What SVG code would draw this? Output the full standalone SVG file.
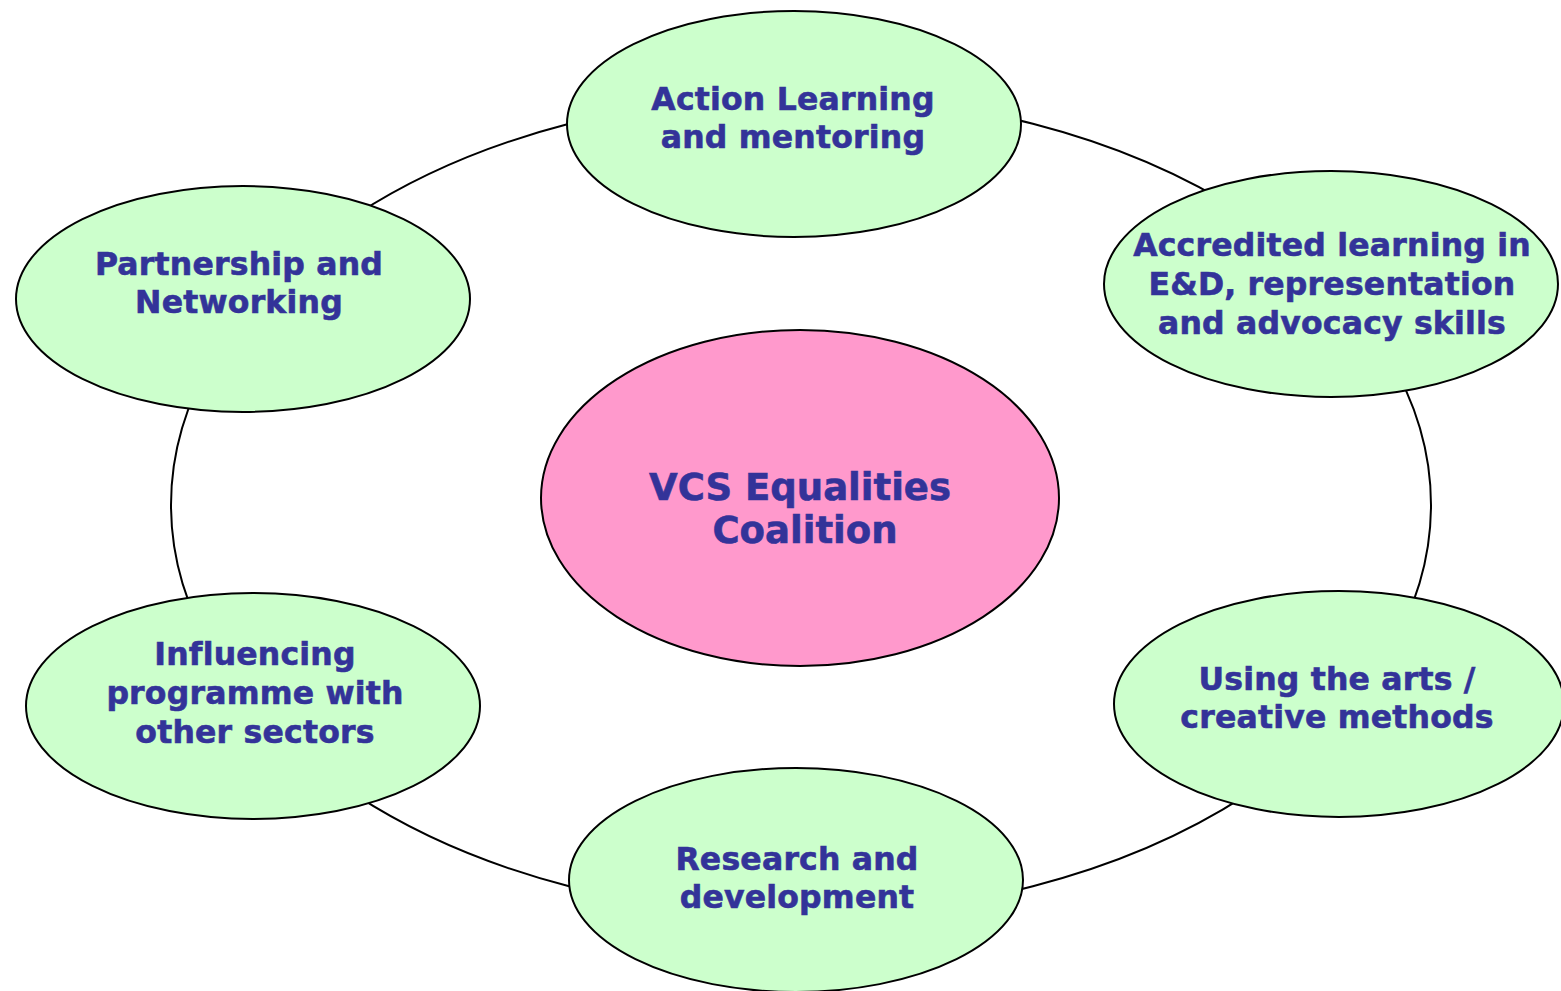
<svg xmlns="http://www.w3.org/2000/svg" width="1561" height="991" viewBox="0 0 1561 991">
  <style>
    .ring { fill: none; stroke: #000; stroke-width: 2; }
    .node { fill: #ccffcc; stroke: #000; stroke-width: 2; }
    .hub { fill: #ff99cc; stroke: #000; stroke-width: 2; }
    .lbl { font-family: "DejaVu Sans", Verdana, sans-serif; font-weight: bold; font-size: 31.5px; letter-spacing: 0.2px; fill: #333399; stroke: #333399; stroke-width: 0.6px; text-anchor: middle; }
    .hub-lbl { font-size: 37px; letter-spacing: 0; }
  </style>
  <rect width="1561" height="991" fill="#fff"/>

  <!-- ring linking the outer topics -->
  <g id="connectors">
    <ellipse class="ring" cx="801" cy="505" rx="630" ry="410"/>
  </g>

  <g id="hub">
    <ellipse class="hub" cx="800" cy="498" rx="259" ry="168"/>
    <text class="lbl hub-lbl" x="800" y="500">VCS Equalities</text>
    <text class="lbl hub-lbl" x="805" y="543">Coalition</text>
  </g>

  <g id="action-learning">
    <ellipse class="node" cx="794" cy="124" rx="227" ry="113"/>
    <text class="lbl" x="793" y="110">Action Learning</text>
    <text class="lbl" x="793" y="148">and mentoring</text>
  </g>

  <g id="accredited-learning">
    <ellipse class="node" cx="1331" cy="284" rx="227" ry="113"/>
    <text class="lbl" x="1332" y="256">Accredited learning in</text>
    <text class="lbl" x="1332" y="295">E&amp;D, representation</text>
    <text class="lbl" x="1332" y="334">and advocacy skills</text>
  </g>

  <g id="using-arts">
    <ellipse class="node" cx="1339" cy="704" rx="225" ry="113"/>
    <text class="lbl" x="1337" y="690">Using the arts /</text>
    <text class="lbl" x="1337" y="728">creative methods</text>
  </g>

  <g id="research">
    <ellipse class="node" cx="796" cy="880" rx="227" ry="112"/>
    <text class="lbl" x="797" y="870">Research and</text>
    <text class="lbl" x="797" y="908">development</text>
  </g>

  <g id="influencing">
    <ellipse class="node" cx="253" cy="706" rx="227" ry="113"/>
    <text class="lbl" x="255" y="665">Influencing</text>
    <text class="lbl" x="255" y="704">programme with</text>
    <text class="lbl" x="255" y="743">other sectors</text>
  </g>

  <g id="partnership">
    <ellipse class="node" cx="243" cy="299" rx="227" ry="113"/>
    <text class="lbl" x="239" y="275">Partnership and</text>
    <text class="lbl" x="239" y="313">Networking</text>
  </g>
</svg>
